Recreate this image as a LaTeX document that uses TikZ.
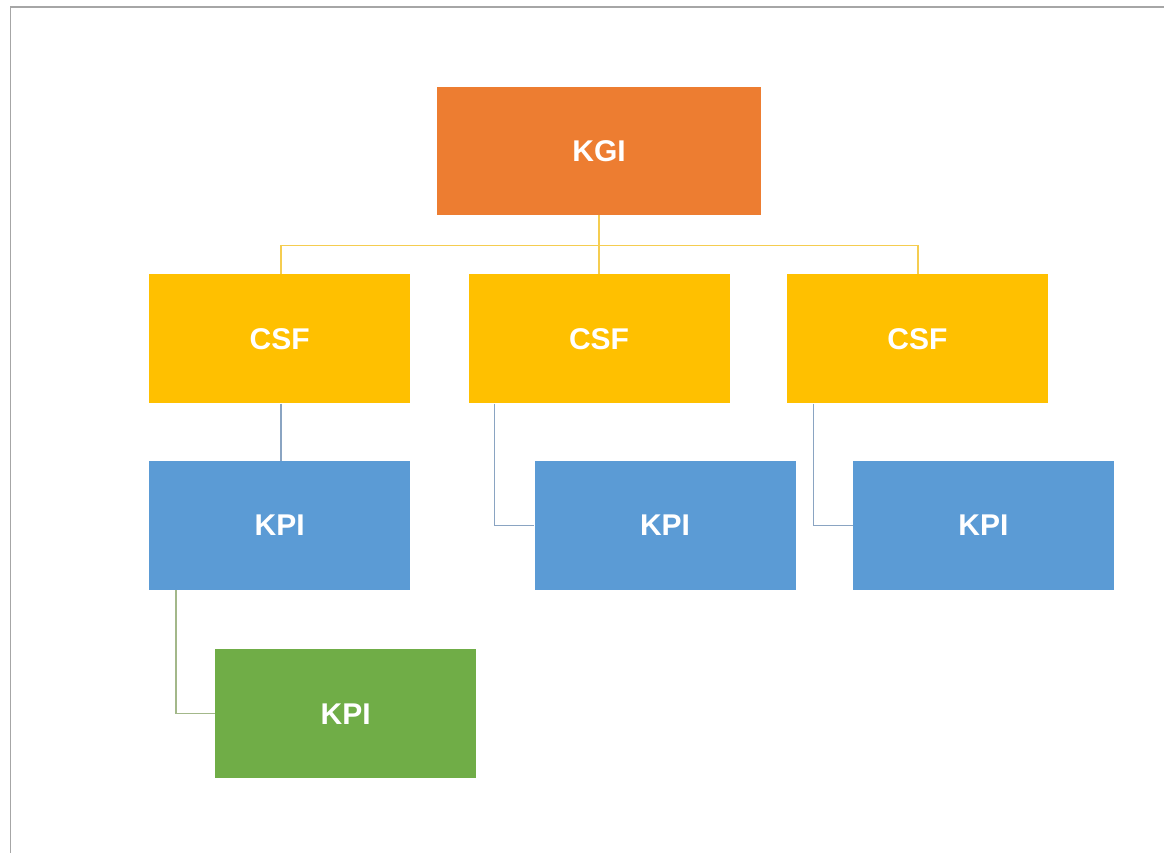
\documentclass[tikz,border=0pt]{standalone}
\usepackage{fontspec}
\setmainfont{Liberation Sans}
\usetikzlibrary{positioning}
\definecolor{kgiorange}{HTML}{ED7D31}
\definecolor{csfyellow}{HTML}{FFC000}
\definecolor{kpiblue}{HTML}{5B9BD5}
\definecolor{kpigreen}{HTML}{70AD47}
\definecolor{linkyellow}{HTML}{F5CD50}
\definecolor{linkblue}{HTML}{8AA4C2}
\definecolor{linkgreen}{HTML}{A3B88A}
\definecolor{frame}{HTML}{A6A6A6}
\tikzset{
  box/.style={rectangle, minimum width=261pt, minimum height=129pt, inner sep=0pt,
    text=white, font=\fontsize{30}{34}\selectfont\bfseries},
  link/.style={line width=1.3pt}
}

\begin{document}
\begin{tikzpicture}[x=1pt, y=1pt, node distance=57pt]
      \useasboundingbox (0,0) rectangle (1164,853);
      \draw[frame, line width=1.6pt] (10.5,0) -- (10.5,846) -- (1164,846);
      \node[box, fill=kgiorange, minimum width=324pt, minimum height=128pt] (kgi) at (599,702) {KGI};
      \node[box, fill=csfyellow] (csfB) [below=59pt of kgi] {CSF};
      \node[box, fill=csfyellow] (csfA) [left=58pt of csfB] {CSF};
      \node[box, fill=csfyellow] (csfC) [right=of csfB] {CSF};
      \node[box, fill=kpiblue] (kpiA) [below=of csfA] {KPI};
      \node[box, fill=kpiblue] (kpiB) [right=124pt of kpiA] {KPI};
      \node[box, fill=kpiblue] (kpiC) [right=of kpiB] {KPI};
      \node[box, fill=kpigreen] (kpiD) [below=59pt of kpiA.south west, anchor=north west, xshift=66pt] {KPI};
      \draw[link, linkyellow] (kgi.south) -- ++(0,-30.5) coordinate (bus);
      \draw[link, linkyellow] ([xshift=1.5pt]csfA.north) |- (bus) -| ([xshift=0.5pt]csfC.north);
      \draw[link, linkyellow] (bus) -- (csfB.north);
      \draw[link, linkblue] ([xshift=1.5pt]csfA.south) -- ([xshift=1.5pt]kpiA.north);
      \draw[link, linkblue] ([xshift=26pt]csfB.south west) |- (kpiB.west);
      \draw[link, linkblue] ([xshift=27pt]csfC.south west) |- (kpiC.west);
      \draw[link, linkgreen] ([xshift=27pt]kpiA.south west) |- (kpiD.west);
    \end{tikzpicture}
\end{document}
